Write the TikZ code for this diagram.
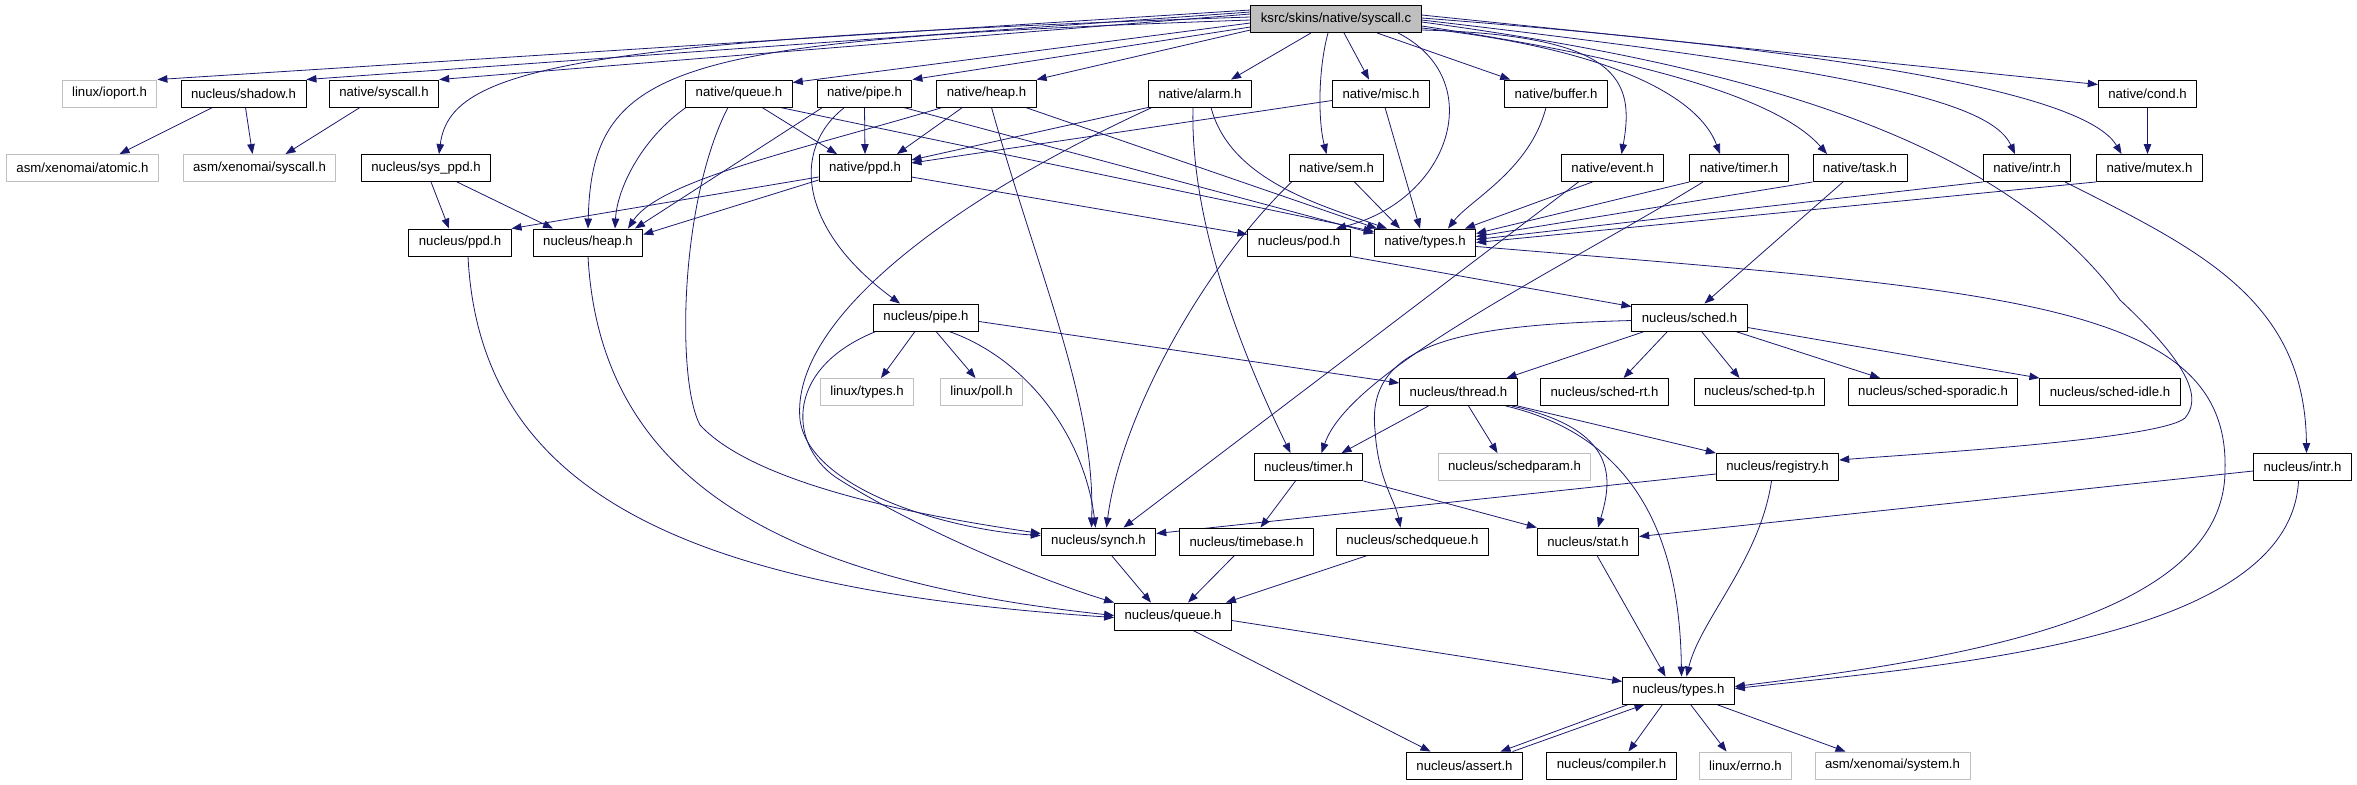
\documentclass[tikz,border=0pt]{standalone}
\usepackage{fontspec}
\setmainfont{Liberation Sans}
\usepackage{xcolor}
\usepackage{tikz}
\usetikzlibrary{arrows.meta}
\definecolor{incblue}{RGB}{25,25,112}
\definecolor{extgray}{RGB}{191,191,191}
\pgfdeclarelayer{background}
\pgfsetlayers{background,main}

\begin{document}
\begin{tikzpicture}[
  x=1pt,y=-1pt,
  line cap=round,
  line join=round,
  filebox/.style={draw=black,fill=white,line width=0.9pt,minimum height=27pt,
    inner xsep=10pt,inner ysep=0pt,font=\fontsize{13.2}{15}\selectfont},
  extbox/.style={filebox,draw=extgray},
  rootbox/.style={filebox,fill=extgray},
  inc/.style={incblue,line width=0.8pt,-{Triangle[length=10pt,width=7.5pt]}}
]
\path[use as bounding box] (0,0) rectangle (2357,784);

\node[rootbox] (root) at (1336,19) {ksrc/skins/native/syscall.c};

\node[extbox]  (ioport)   at (109.5,93.5) {linux/ioport.h};
\node[filebox] (shadow)   at (243.5,93.5) {nucleus/shadow.h};
\node[filebox] (nsyscall) at (384,93.5) {native/syscall.h};
\node[filebox] (nqueue)   at (739,93.5) {native/queue.h};
\node[filebox] (npipe)    at (864.5,93.5) {native/pipe.h};
\node[filebox] (nheap)    at (986.5,93.5) {native/heap.h};
\node[filebox] (nalarm)   at (1200,93.5) {native/alarm.h};
\node[filebox] (nmisc)    at (1381,93.5) {native/misc.h};
\node[filebox] (nbuffer)  at (1556,93.5) {native/buffer.h};
\node[filebox] (ncond)    at (2147.5,93.5) {native/cond.h};

\node[extbox]  (atomic)     at (82.5,168) {asm/xenomai/atomic.h};
\node[extbox]  (asmsyscall) at (259.5,168) {asm/xenomai/syscall.h};
\node[filebox] (sysppd)     at (426,168) {nucleus/sys\_ppd.h};
\node[filebox] (nppd)       at (865,168) {native/ppd.h};
\node[filebox] (nsem)       at (1336.5,168) {native/sem.h};
\node[filebox] (nevent)     at (1612.5,168) {native/event.h};
\node[filebox] (ntimer)     at (1739,168) {native/timer.h};
\node[filebox] (ntask)      at (1860,168) {native/task.h};
\node[filebox] (nintr)      at (2027,168) {native/intr.h};
\node[filebox] (nmutex)     at (2149.5,168) {native/mutex.h};

\node[filebox] (ppd)    at (460,242.5) {nucleus/ppd.h};
\node[filebox] (heap)   at (588,242.5) {nucleus/heap.h};
\node[filebox] (pod)    at (1299,242.5) {nucleus/pod.h};
\node[filebox] (ntypes) at (1425,242.5) {native/types.h};

\node[filebox] (pipe)  at (926,317.5) {nucleus/pipe.h};
\node[filebox] (sched) at (1689.5,317.5) {nucleus/sched.h};

\node[extbox]  (ltypes)    at (867,392) {linux/types.h};
\node[extbox]  (poll)      at (981.5,392) {linux/poll.h};
\node[filebox] (thread)    at (1458.5,392) {nucleus/thread.h};
\node[filebox] (schedrt)   at (1604.5,392) {nucleus/sched-rt.h};
\node[filebox] (schedtp)   at (1759.5,392) {nucleus/sched-tp.h};
\node[filebox] (sporadic)  at (1933,392) {nucleus/sched-sporadic.h};
\node[filebox] (schedidle) at (2110,392) {nucleus/sched-idle.h};

\node[filebox] (timer)      at (1308.5,467) {nucleus/timer.h};
\node[extbox]  (schedparam) at (1514.5,467) {nucleus/schedparam.h};
\node[filebox] (registry)   at (1777.5,467) {nucleus/registry.h};
\node[filebox] (intr)       at (2302.5,467) {nucleus/intr.h};

\node[filebox] (synch)      at (1098.5,541.5) {nucleus/synch.h};
\node[filebox] (timebase)   at (1246.5,541.5) {nucleus/timebase.h};
\node[filebox] (schedqueue) at (1412.5,541.5) {nucleus/schedqueue.h};
\node[filebox] (stat)       at (1588,541.5) {nucleus/stat.h};

\node[filebox] (queue) at (1173,616.5) {nucleus/queue.h};
\node[filebox] (types) at (1678.5,690.5) {nucleus/types.h};

\node[filebox] (assert)   at (1464.5,765.5) {nucleus/assert.h};
\node[filebox] (compiler) at (1611.5,765.5) {nucleus/compiler.h};
\node[extbox]  (errno)    at (1745.5,765.5) {linux/errno.h};
\node[extbox]  (system)   at (1892.5,765.5) {asm/xenomai/system.h};

\begin{pgfonlayer}{background}
% syscall.c
\draw[inc] ([yshift=9pt]root.west) -- (ioport.north east);
\draw[inc] ([yshift=7pt]root.west) -- (shadow.north east);
\draw[inc] ([yshift=5pt]root.west) -- (nsyscall.north east);
\draw[inc] ([yshift=2pt]root.west) .. controls (560,40) and (450,70) .. ([xshift=13pt]sysppd.north);
\draw[inc] ([yshift=-1pt]root.west) .. controls (680,40) and (592,60) .. (heap.north);
\draw[inc] ([yshift=-4pt]root.west) -- ([yshift=11pt]nqueue.east);
\draw[inc] ([yshift=-8pt]root.west) -- (npipe.north east);
\draw[inc] ([yshift=-11pt]root.west) -- (nheap.north east);
\draw[inc] ([xshift=-25pt]root.south) -- ([xshift=31pt]nalarm.north);
\draw[inc] ([xshift=-8pt]root.south) .. controls (1318,70) and (1318,120) .. ([xshift=-10pt]nsem.north);
\draw[inc] ([xshift=8pt]root.south) -- ([xshift=-12pt]nmisc.north);
\draw[inc] ([xshift=41pt]root.south) -- ([xshift=6pt]nbuffer.north west);
\draw[inc] ([xshift=62pt]root.south) .. controls (1490,80) and (1450,200) .. ([xshift=37pt]pod.north);
\draw[inc] ([yshift=-11pt]root.east) .. controls (1620,35) and (1635,80) .. ([xshift=9pt]nevent.north);
\draw[inc] ([yshift=-9pt]root.east) .. controls (1620,50) and (1700,100) .. ([xshift=-19pt]ntimer.north);
\draw[inc] ([yshift=-7pt]root.east) .. controls (1650,60) and (1780,100) .. ([xshift=-33pt]ntask.north);
\draw[inc] ([yshift=-3pt]root.east) .. controls (1780,70) and (2010,150) .. (2120,300)
  .. controls (2195,370) and (2200,400) .. (2185,418)
  .. controls (2160,440) and (1900,455) .. ([yshift=7pt]registry.east);
\draw[inc] ([yshift=-1pt]root.east) .. controls (1850,70) and (1990,100) .. ([xshift=-12pt]nintr.north);
\draw[inc] ([yshift=1pt]root.east) .. controls (1900,55) and (2090,100) .. ([xshift=-28pt]nmutex.north);
\draw[inc] ([yshift=4pt]root.east) -- ([yshift=9pt]ncond.west);

\draw[inc] ([xshift=-31pt]shadow.south) -- ([xshift=37pt]atomic.north);
\draw[inc] ([xshift=2pt]shadow.south) -- ([xshift=-7pt]asmsyscall.north);
\draw[inc] ([xshift=-24pt]nsyscall.south) -- ([xshift=26pt]asmsyscall.north);
\draw[inc] ([xshift=5pt]sysppd.south) -- ([xshift=-11pt]ppd.north);
\draw[inc] ([xshift=31pt]sysppd.south) -- ([xshift=-35pt]heap.north);

% native headers
\draw[inc] ([xshift=-53pt]nqueue.south) .. controls (640,140) and (617,190) .. ([xshift=27pt]heap.north);
\draw[inc] ([xshift=23pt]nqueue.south) -- ([xshift=-28pt]nppd.north);
\draw[inc] ([xshift=41pt]nqueue.south) -- ([yshift=11pt]ntypes.west);
\draw[inc] ([xshift=-11pt]nqueue.south) .. controls (680,200) and (676,380) .. (700,425)
  .. controls (760,490) and (950,520) .. ([yshift=8pt]synch.west);
\draw[inc] (npipe.south) -- (nppd.north);
\draw[inc] ([xshift=-42pt]npipe.south) -- ([xshift=47pt]heap.north);
\draw[inc] ([xshift=-20pt]npipe.south) .. controls (790,150) and (800,230) .. ([xshift=-26pt]pipe.north);
\draw[inc] ([xshift=39pt]npipe.south) -- ([yshift=9pt]ntypes.west);
\draw[inc] ([xshift=-24pt]nheap.south) -- ([xshift=32pt]nppd.north);
\draw[inc] ([xshift=-44pt]nheap.south) .. controls (800,150) and (660,180) .. ([xshift=40pt]heap.north);
\draw[inc] ([xshift=5pt]nheap.south) .. controls (1040,280) and (1095,400) .. ([xshift=-7pt]synch.north);
\draw[inc] ([xshift=39pt]nheap.south) -- ([xshift=-48pt]ntypes.north);
\draw[inc] (nalarm.south west) -- ([yshift=8pt]nppd.east);
\draw[inc] ([xshift=4pt]nalarm.south west) .. controls (950,200) and (790,320) .. (800,420)
  .. controls (810,490) and (950,530) .. ([yshift=6pt]synch.west);
\draw[inc] ([xshift=-7pt]nalarm.south) .. controls (1190,220) and (1240,350) .. ([xshift=-18pt]timer.north);
\draw[inc] ([xshift=11pt]nalarm.south) .. controls (1230,180) and (1320,205) .. ([xshift=-38pt]ntypes.north);
\draw[inc] ([yshift=-7pt]nmisc.west) -- ([yshift=5pt]nppd.east);
\draw[inc] ([xshift=4pt]nmisc.south) -- ([xshift=-5pt]ntypes.north);
\draw[inc] ([xshift=-10pt]nbuffer.south) .. controls (1530,170) and (1470,200) .. ([xshift=23pt]ntypes.north);
\draw[inc] (ncond.south) -- ([xshift=-2pt]nmutex.north);
\draw[inc] ([yshift=-9pt]nppd.west) -- (ppd.north east);
\draw[inc] ([yshift=-12pt]nppd.west) -- ([yshift=8pt]heap.east);
\draw[inc] ([yshift=-9pt]nppd.east) -- ([yshift=8pt]pod.west);
\draw[inc] ([xshift=18pt]nsem.south) -- ([xshift=-25pt]ntypes.north);
\draw[inc] ([xshift=3pt]nsem.south west) .. controls (1200,270) and (1120,420) .. ([xshift=8pt]synch.north);
\draw[inc] ([xshift=-20pt]nevent.south) -- ([xshift=40pt]ntypes.north);
\draw[inc] ([xshift=-34pt]nevent.south) -- ([xshift=25pt]synch.north);
\draw[inc] (ntimer.south west) -- ([yshift=9pt]ntypes.east);
\draw[inc] ([xshift=-36pt]ntimer.south) .. controls (1560,270) and (1350,370) .. ([xshift=13pt]timer.north);
\draw[inc] (ntask.south west) -- ([yshift=6pt]ntypes.east);
\draw[inc] ([xshift=-17pt]ntask.south) -- ([xshift=15pt]sched.north);
\draw[inc] (nintr.south west) -- ([yshift=3pt]ntypes.east);
\draw[inc] ([xshift=38pt]nintr.south) .. controls (2200,250) and (2305,300) .. ([xshift=4pt]intr.north);
\draw[inc] (nmutex.south west) -- (ntypes.east);

% nucleus headers
\draw[inc] ([xshift=8pt]ppd.south) .. controls (480,500) and (700,590) .. ([yshift=-1pt]queue.west);
\draw[inc] (heap.south) .. controls (600,480) and (780,580) .. ([yshift=1pt]queue.west);
\draw[inc] (pod.south east) -- ([yshift=11pt]sched.west);
\draw[inc] ([yshift=-4pt]ntypes.east) .. controls (2000,290) and (2230,300) .. (2225,470)
  .. controls (2225,620) and (1950,660) .. ([yshift=4pt]types.east);
\draw[inc] ([xshift=-11pt]pipe.south) -- ([xshift=14pt]ltypes.north);
\draw[inc] ([xshift=10pt]pipe.south) -- ([xshift=-6pt]poll.north);
\draw[inc] ([yshift=-4pt]pipe.east) -- ([yshift=9pt]thread.west);
\draw[inc] ([xshift=23pt]pipe.south) .. controls (1030,360) and (1085,440) .. ([xshift=-3pt]synch.north);
\draw[inc] ([xshift=3pt]pipe.south west) .. controls (780,370) and (790,450) .. (840,480)
  .. controls (920,530) and (1040,580) .. (queue.north west);
\draw[inc] ([xshift=-45pt]sched.south) -- ([xshift=48pt]thread.north);
\draw[inc] ([xshift=-22pt]sched.south) -- ([xshift=19pt]schedrt.north);
\draw[inc] ([xshift=12pt]sched.south) -- ([xshift=-20pt]schedtp.north);
\draw[inc] ([xshift=46pt]sched.south) -- ([xshift=-53pt]sporadic.north);
\draw[inc] ([yshift=-10pt]sched.east) -- (schedidle.north west);
\draw[inc] ([yshift=-3pt]sched.west) .. controls (1470,325) and (1365,340) .. (1375,430)
  .. controls (1378,480) and (1395,500) .. ([xshift=-12pt]schedqueue.north);
\draw[inc] ([xshift=-30pt]thread.south) -- ([xshift=33pt]timer.north);
\draw[inc] ([xshift=10pt]thread.south) -- ([xshift=-17pt]schedparam.north);
\draw[inc] (thread.south east) -- (registry.north west);
\draw[inc] ([xshift=-6pt]thread.south east) .. controls (1620,430) and (1612,480) .. ([xshift=10pt]stat.north);
\draw[inc] ([xshift=-12pt]thread.south east) .. controls (1650,440) and (1680,560) .. ([xshift=3pt]types.north);
\draw[inc] ([xshift=-13pt]timer.south) -- ([xshift=14pt]timebase.north);
\draw[inc] (timer.south east) -- (stat.north west);
\draw[inc] ([yshift=-7pt]registry.west) -- ([yshift=8pt]synch.east);
\draw[inc] ([xshift=-6pt]registry.south) .. controls (1760,560) and (1700,620) .. ([xshift=8pt]types.north);
\draw[inc] ([yshift=-4pt]intr.west) -- ([yshift=5pt]stat.east);
\draw[inc] ([xshift=-4pt]intr.south) .. controls (2290,640) and (1950,665) .. ([yshift=2pt]types.east);
\draw[inc] ([xshift=13pt]synch.south) -- ([xshift=-22pt]queue.north);
\draw[inc] ([xshift=-12pt]timebase.south) -- ([xshift=15pt]queue.north);
\draw[inc] ([xshift=-45pt]schedqueue.south) -- ([xshift=-6pt]queue.north east);
\draw[inc] ([xshift=9pt]stat.south) -- ([xshift=-13pt]types.north);
\draw[inc] ([xshift=20pt]queue.south) -- ([xshift=-34pt]assert.north);
\draw[inc] ([yshift=-4pt]queue.east) -- ([yshift=9pt]types.west);
\draw[inc] ([xshift=-50pt]types.south) -- ([xshift=36pt]assert.north);
\draw[inc] ([xshift=48pt]assert.north) -- ([xshift=-34pt]types.south);
\draw[inc] ([xshift=-16pt]types.south) -- ([xshift=17pt]compiler.north);
\draw[inc] ([xshift=12pt]types.south) -- ([xshift=-19pt]errno.north);
\draw[inc] ([xshift=38pt]types.south) -- ([xshift=-47pt]system.north);
\end{pgfonlayer}
\end{tikzpicture}
\end{document}
